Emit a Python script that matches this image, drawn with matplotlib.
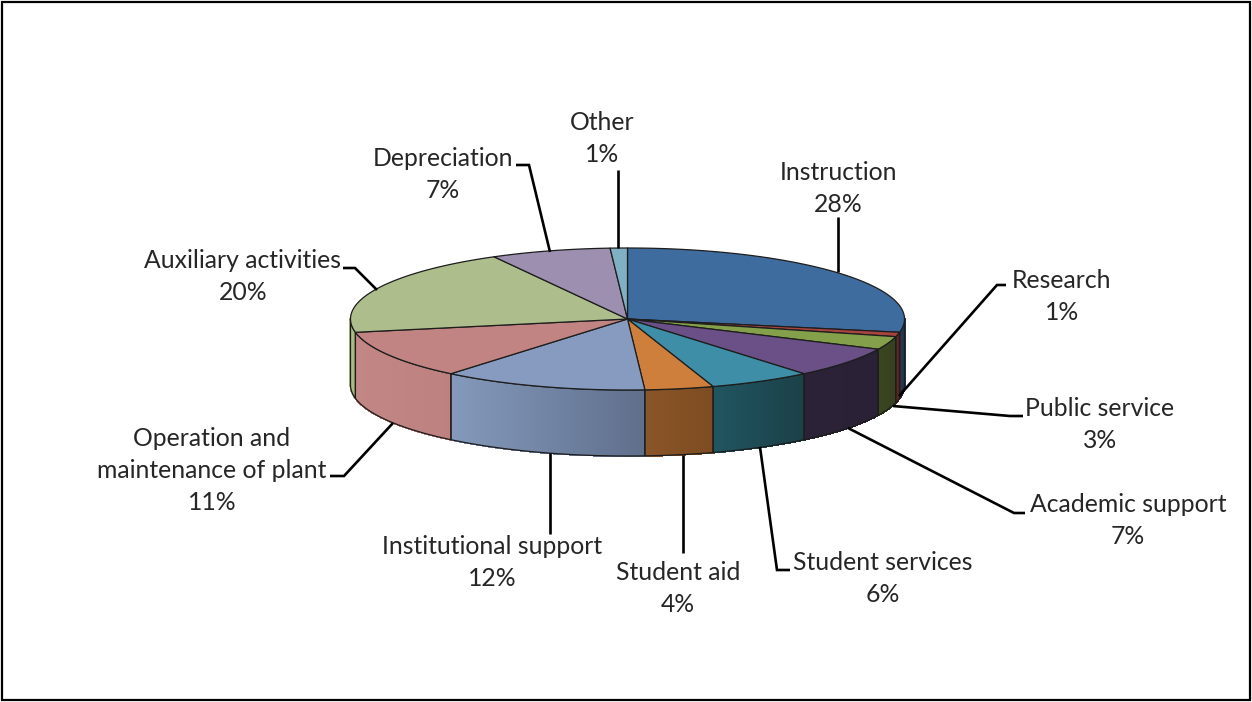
#!/usr/bin/env python3
"""Expenses by function drawn as a tilted 3D pie."""

import matplotlib
matplotlib.use("Agg")
import matplotlib.pyplot as plt
from matplotlib.collections import PolyCollection
from matplotlib.colors import to_rgb
from matplotlib.patches import Polygon, Rectangle
import numpy as np

W, H = 1252, 702

categories = ["Instruction", "Research", "Public service", "Academic support", "Student services", "Student aid",
              "Institutional support", "Operation and\nmaintenance of plant", "Auxiliary activities", "Depreciation", "Other"]
shares = [28, 1, 3, 7, 6, 4, 12, 11, 20, 7, 1]
top_colors = ["#3f6c9f", "#a8443f", "#84a04a", "#6b5088", "#3d8ea6", "#cd7f3b",
              "#869bbf", "#c18482", "#adbd8b", "#9d8fb0", "#7fb0c4"]
# wall shading, value at the slice's left and right end
wall_left = ["#1f3a5a", "#6a2422", "#3a4520", "#2b2238", "#205560", "#8a5528",
             "#8499bb", "#c28684", "#a9bb85", "#8d7fa0", "#70a0b4"]
wall_right = ["#1c3450", "#5a1f1d", "#36401e", "#2a2136", "#1c4048", "#7d4c22",
              "#5f6f8c", "#bd8280", "#a9bb85", "#8d7fa0", "#70a0b4"]

# label centre (x, first line y) and the leader polyline
label_pos = [(838, 172), (1062, 280), (1100, 409), (1128, 505), (883, 563), (678, 572),
             (492, 546), (212, 438), (243, 261), (443, 159), (602, 123)]
leaders = [[(838, 217), (838, 272)],
           [(1006, 285), (997, 285), (899, 396)],
           [(1023, 416), (1010, 416), (893, 406)],
           [(1025, 513), (1014, 513), (848, 428)],
           [(790, 570), (777, 570), (760, 447)],
           [(683, 553), (683, 455)],
           [(550, 534), (550, 453)],
           [(330, 476), (344, 476), (393, 423)],
           [(343, 268), (355, 268), (377, 290)],
           [(516, 165), (529, 165), (550, 252)],
           [(618, 170), (618, 248)]]

CX, CY, RX, RY, DEPTH = 627.5, 319, 277, 71, 66
OUTLINE = "#1d1d1d"


def rim(t, dy=0):
    # t in degrees, clockwise from twelve o'clock
    t = np.radians(t)
    return np.column_stack([CX + RX * np.sin(t), CY - RY * np.cos(t) + dy])


def draw_wall(ax, t0, t1, left, right):
    a, b = max(t0, 90), min(t1, 270)
    if a >= b:
        return
    ts = np.linspace(a, b, max(int(b - a) * 3, 2) + 1)
    upper, lower = rim(ts), rim(ts, DEPTH)
    quads = [[upper[i], upper[i + 1], lower[i + 1], lower[i]] for i in range(len(ts) - 1)]
    xmid = (upper[:-1, 0] + upper[1:, 0]) / 2
    span = max(xmid.max() - xmid.min(), 1)
    mix = ((xmid - xmid.min()) / span)[:, None]
    colors = (1 - mix) * np.array(to_rgb(left)) + mix * np.array(to_rgb(right))
    ax.add_collection(PolyCollection(quads, facecolors=colors, edgecolors=colors, linewidths=.8,
                                     antialiaseds=False, zorder=2))
    outline = np.vstack([upper, lower[::-1]])
    ax.add_patch(Polygon(outline, closed=True, fill=False, ec=OUTLINE, lw=.9, zorder=3))


def draw_top(ax, t0, t1, color):
    ts = np.linspace(t0, t1, max(int(t1 - t0) * 2, 2) + 1)
    pts = np.vstack([[CX, CY], rim(ts)])
    ax.add_patch(Polygon(pts, closed=True, fc=color, ec=OUTLINE, lw=.9, joinstyle="round", zorder=4))


def main():
    plt.rcParams["font.family"] = ["Lato", "DejaVu Sans"]
    fig = plt.figure(figsize=(W / 100, H / 100), dpi=100, facecolor="white")
    ax = fig.add_axes([0, 0, 1, 1])
    ax.set_xlim(0, W)
    ax.set_ylim(H, 0)
    ax.axis("off")
    ax.add_patch(Rectangle((2, 2), W - 4, H - 4, fill=False, ec="black", lw=1.6, zorder=1))

    edges = np.cumsum([0] + shares) / sum(shares) * 360
    for i in range(len(shares)):
        draw_wall(ax, edges[i], edges[i + 1], wall_left[i], wall_right[i])
    for i in range(len(shares)):
        draw_top(ax, edges[i], edges[i + 1], top_colors[i])

    for name, share, (x, y), path in zip(categories, shares, label_pos, leaders):
        path = np.array(path)
        ax.plot(path[:, 0], path[:, 1], color="black", lw=1.9, solid_capstyle="butt", solid_joinstyle="miter", zorder=5)
        lines = name.split("\n") + [f"{share}%"]
        for k, line in enumerate(lines):
            ax.text(x, y + k * 32, line, ha="center", va="center", fontsize=17.8, color="#262626", zorder=6)

    fig.savefig("out.png", dpi=100)
    plt.close(fig)


if __name__ == "__main__":
    main()
